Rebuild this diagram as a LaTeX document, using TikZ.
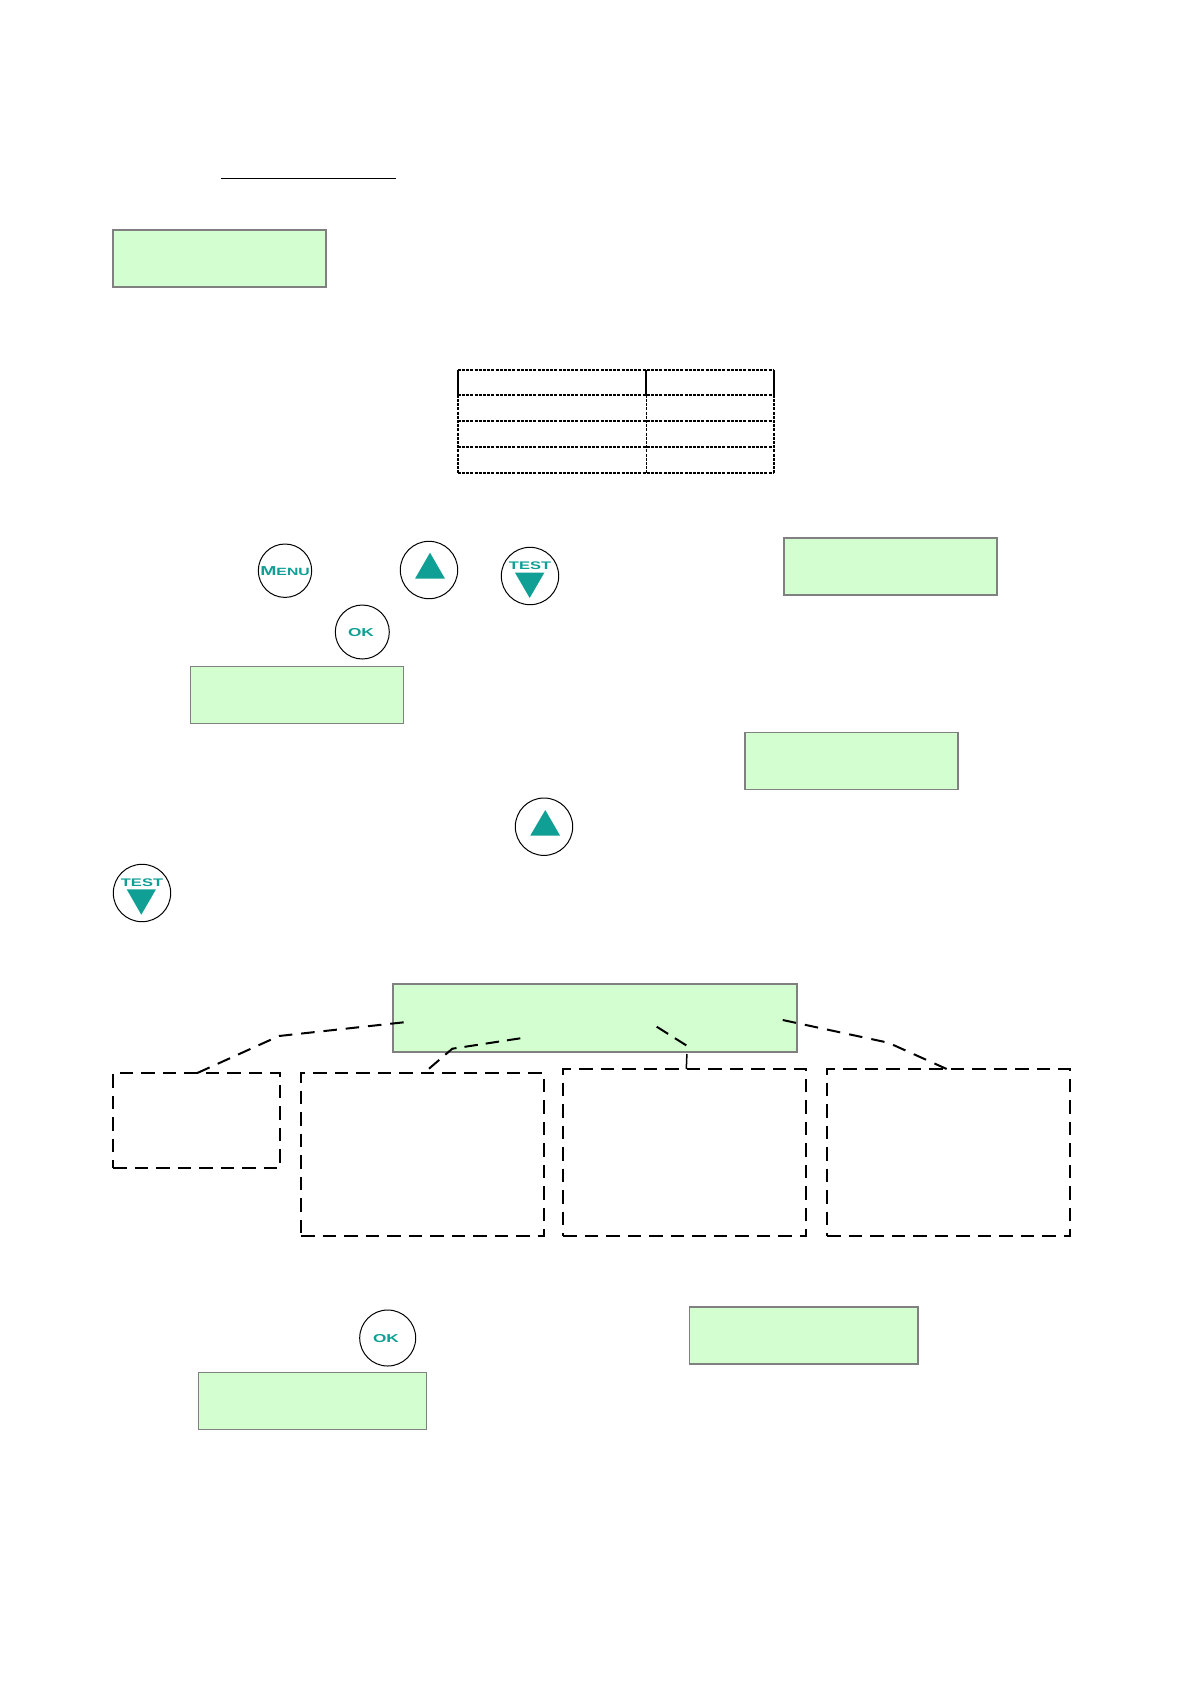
\documentclass[tikz,border=0pt]{standalone}
\usepackage{fontspec}
\newfontfamily\btnfont[FakeStretch=1.5]{Liberation Sans Bold}
\definecolor{lcdgreen}{HTML}{D3FFD0}
\definecolor{lcdedge}{HTML}{808080}
\definecolor{teal1}{HTML}{0F9F94}
\tikzset{
  x=1pt,y=-1pt,
  lcd/.style={draw=lcdedge,fill=lcdgreen,line width=1.7pt,inner sep=0pt,outer sep=0pt,anchor=north west,minimum width=#1,minimum height=57pt},
  lcd/.default=213pt,
  btn/.style={draw=black,circle,line width=1pt,fill=white,inner sep=0pt,outer sep=0pt,minimum size=#1},
  btn/.default=57.4pt,
  btnlabel/.style={inner sep=0pt,text=teal1},
  tri/.style={fill=teal1,draw=none},
  dbox/.style={draw=black,line width=2pt,dash pattern=on 13.5pt off 8pt,inner sep=0pt,outer sep=0pt,anchor=north west,minimum width=243pt,minimum height=167pt},
  dline/.style={draw=black,line width=2pt,dash pattern=on 13.5pt off 8pt},
  tline/.style={draw=black,line width=1.6pt,dash pattern=on 3pt off 1.2pt},
  tsolid/.style={draw=black,line width=1.7pt}
}
\newcommand{\labelM}{{\btnfont\fontsize{13}{13}\selectfont M\fontsize{10.5}{10.5}\selectfont ENU}}
\newcommand{\labelT}{{\btnfont\fontsize{11}{11}\selectfont TEST}}
\newcommand{\labelO}{{\btnfont\fontsize{11.5}{11.5}\selectfont OK}}
\begin{document}
\begin{tikzpicture}
\useasboundingbox (0,0) rectangle (1191,1684);
\fill[white] (0,0) rectangle (1191,1684);
\coordinate (ula) at (221,178);
\coordinate (ulb) at (396,178);
\draw[black,line width=1pt] (ula) -- (ulb);

% LCD panels
\node[lcd] (lcda) at (113,230) {};
\node[lcd] (lcdc) at (784,538) {};
\node[lcd] (lcdb) at (190.5,666.5) {};
\node[lcd] (lcdd) at (745,732.5) {};
\node[lcd=404pt,minimum height=68.3pt] (lcdmain) at (392.7,984) {};
\node[lcd=228.5pt] (lcde) at (689.5,1307) {};
\node[lcd=228pt] (lcdf) at (198.5,1372.5) {};

% Table
\coordinate (t00) at (457.7,370);
\coordinate (t20) at (773.7,370);
\coordinate (t10) at (646.3,370);
\coordinate (t01) at (457.7,394.7);
\coordinate (t11) at (646.3,394.7);
\coordinate (t21) at (773.7,394.7);
\coordinate (t02) at (457.7,420.7);
\coordinate (t22) at (773.7,420.7);
\coordinate (t03) at (457.7,446.7);
\coordinate (t23) at (773.7,446.7);
\coordinate (t04) at (457.7,472.7);
\coordinate (t14) at (646.3,472.7);
\coordinate (t24) at (773.7,472.7);
\draw[tline] (t00) -- (t20);
\draw[tline] (t01) -- (t21);
\draw[tline] (t02) -- (t22);
\draw[tline] (t03) -- (t23);
\draw[tline] (t04) -- (t24);
\draw[tsolid] (t00) -- (t01);
\draw[tsolid] (t10) -- (t11);
\draw[tsolid] (t20) -- (t21);
\draw[tline] (t01) -- (t04);
\draw[tline] (t11) -- (t14);
\draw[tline] (t21) -- (t24);

% Buttons
\node[btn=53.4pt] (menu) at (285,570.7) {};
\node[btnlabel] (menulabel) at (285,571.5) {\labelM};
\node[btn] (up1) at (429,570) {};
\fill[tri] (430,552.7) -- (415,578.7) -- (445,578.7) -- cycle;
\node[btn] (test1) at (530,576) {};
\node[btnlabel] (test1label) at (530,565.7) {\labelT};
\fill[tri] (515,572.7) -- (544.3,572.7) -- (529.7,598) -- cycle;
\node[btn=54pt] (ok1) at (362.3,632) {};
\node[btnlabel] (ok1label) at (361,632.3) {\labelO};
\node[btn] (up2) at (544,826.7) {};
\fill[tri] (545.3,810) -- (530.3,835.5) -- (560,835.5) -- cycle;
\node[btn] (test2) at (142,893) {};
\node[btnlabel] (test2label) at (142,882.7) {\labelT};
\fill[tri] (126.7,889.3) -- (156,889.3) -- (141.3,914.7) -- cycle;
\node[btn=56pt] (ok2) at (387.7,1338) {};
\node[btnlabel] (ok2label) at (386,1338.3) {\labelO};

% Dashed boxes
\node[dbox,minimum width=167pt,minimum height=94.7pt] (boxa) at (113,1073) {};
\node[dbox,minimum height=163pt] (boxb) at (301,1073) {};
\node[dbox] (boxc) at (563,1069) {};
\node[dbox] (boxd) at (827,1069) {};

% Leaders
\coordinate (ca0) at (403.7,1022.3);
\coordinate (ca1) at (279,1036);
\coordinate (cb0) at (520.3,1038.3);
\coordinate (cb1) at (452.3,1048.7);
\coordinate (cc0) at (656.7,1026.7);
\coordinate (cc1) at (687.3,1046);
\coordinate (cd0) at (782.7,1020);
\coordinate (cd1) at (888.3,1042.7);
\coordinate (ca2) at (197.3,1073);
\coordinate (cb2) at (425.7,1071.5);
\coordinate (cc2) at (686.3,1069);
\coordinate (cd2) at (946.7,1069);
\draw[dline,dash pattern=on 13.5pt off 8.9pt] (ca2) -- (ca1) -- (ca0);
\draw[dline] (cb0) -- (cb1) -- (cb2);
\draw[dline] (cc0) -- (cc1);
\draw[black,line width=1.5pt] (686.9,1054) -- (cc2);
\draw[dline,dash pattern=on 13.5pt off 9.15pt] (cd2) -- (cd1) -- (cd0);
\end{tikzpicture}
\end{document}
